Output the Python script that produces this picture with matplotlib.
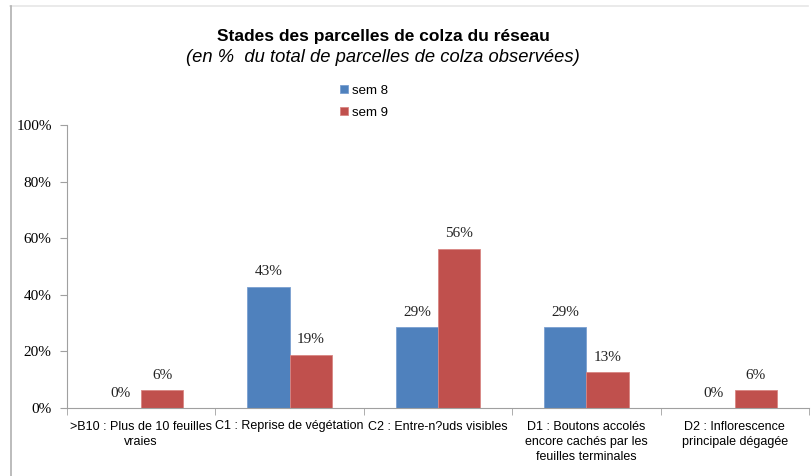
import matplotlib.pyplot as plt
import numpy as np
from matplotlib.lines import Line2D

categories = [
    ">B10 : Plus de 10 feuilles\nvraies",
    "C1 : Reprise de végétation",
    "C2 : Entre-n?uds visibles",
    "D1 : Boutons accolés\nencore cachés par les\nfeuilles terminales",
    "D2 : Inflorescence\nprincipale dégagée",
]
sem8 = [0, 42.9, 28.6, 28.6, 0]
sem9 = [6.3, 18.8, 56.3, 12.6, 6.3]
series_names = ["sem 8", "sem 9"]
yticks = [0, 20, 40, 60, 80, 100]

blue = "#4F81BD"
red = "#C0504D"
serif = ["Liberation Serif", "DejaVu Serif"]
narrow = ["Liberation Sans Narrow", "Liberation Sans", "DejaVu Sans"]
sans = ["Liberation Sans", "DejaVu Sans"]

fig = plt.figure(figsize=(8.11, 4.76), dpi=100)
ax = fig.add_axes([67 / 811, 1 - 408 / 476, (809 - 67) / 811, (408 - 125) / 476])

x = np.arange(len(categories))
w = 0.285
b1 = ax.bar(x - w / 2, sem8, w, color=blue, edgecolor="#7A9FD0", linewidth=0.6, label=series_names[0])
b2 = ax.bar(x + w / 2, sem9, w, color=red, edgecolor="#D88683", linewidth=0.6, label=series_names[1])

for bars, vals in [(b1, sem8), (b2, sem9)]:
    for r, v in zip(bars, vals):
        ax.annotate(f"{int(v + 0.5)}%", (r.get_x() + r.get_width() / 2, v),
                    xytext=(0, 6), textcoords="offset points", ha="center", va="bottom",
                    fontsize=11, family=serif, color="#222222")

ax.set_xlim(-0.5, len(categories) - 0.5)
ax.set_ylim(0, 100)
ax.set_yticks(yticks)
ax.set_yticklabels([f"{t}%" for t in yticks], family=serif, fontsize=11)
ax.set_xticks(x)
ax.set_xticklabels(categories, family=narrow, fontsize=9, linespacing=1.35)
ax.set_xticks(np.arange(-0.5, len(categories)), minor=True)
ax.tick_params(axis="x", which="major", length=0, pad=9)
ax.tick_params(axis="x", which="minor", length=5, color="#A0A0A0")
ax.tick_params(axis="y", length=5, color="#A0A0A0", pad=6)

for s in ["top", "right"]:
    ax.spines[s].set_visible(False)
ax.spines["left"].set_color("#A0A0A0")
ax.spines["bottom"].set_color("#A0A0A0")

# chart frame remnants (top and left border)
fig.add_artist(Line2D([10 / 811, 808 / 811], [1 - 6 / 476] * 2, color="#E6E6E6", lw=1.2))
fig.add_artist(Line2D([10.5 / 811] * 2, [0, 1 - 6 / 476], color="#B0B0B0", lw=1.2))

fig.text(383 / 811, 1 - 36 / 476, "Stades des parcelles de colza du réseau",
         ha="center", va="center", fontsize=12.5, fontweight="bold", family=sans)
fig.text(383 / 811, 1 - 58 / 476, "(en %  du total de parcelles de colza observées)",
         ha="center", va="center", fontsize=13.2, style="italic", family=sans)

leg = fig.legend(handles=[b1, b2], loc="upper left", bbox_to_anchor=(328 / 811, 1 - 73 / 476),
                 frameon=False, prop={"family": sans, "size": 9.5}, handlelength=0.6,
                 handleheight=0.6, handletextpad=0.3, labelspacing=0.75)

fig.savefig("out.png", dpi=100)
